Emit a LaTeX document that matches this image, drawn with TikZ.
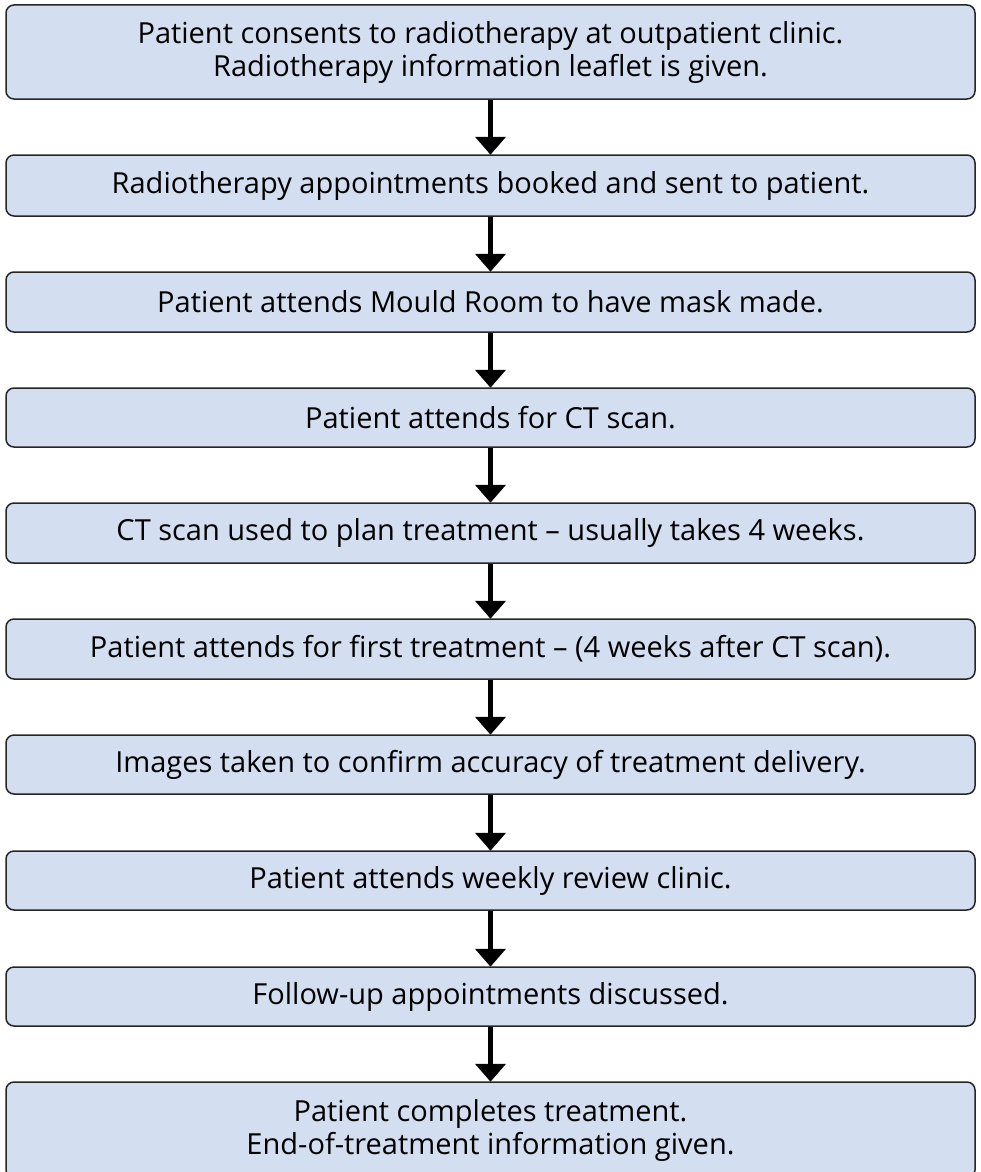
\documentclass[tikz,border=0pt]{standalone}
\usepackage{fontspec}
\setmainfont{Open Sans}
\usetikzlibrary{arrows.meta}
\definecolor{boxfill}{RGB}{211,222,241}
\tikzset{
  stepbox/.style={draw=black!85, line width=1.5pt, fill=boxfill,
    rounded corners=8pt, minimum width=969pt, align=center,
    inner sep=0pt, font=\fontsize{29}{33}\selectfont},
  flow/.style={line width=5.5pt,
    -{Triangle[width=30pt,length=18pt]}, shorten >=-0.5pt}
}
\begin{document}
\begin{tikzpicture}[x=1pt,y=1pt]
  \useasboundingbox (0,0) rectangle (980,-1172);
  \begin{scope}
    \clip (0,0) rectangle (980,-1172);
    \node[stepbox, minimum height=94pt] (consent) at (490.5,-52)
      {Patient consents to radiotherapy at outpatient clinic.\\Radiotherapy information leaflet is given.};
    \node[stepbox, minimum height=61pt] (booked) at (490.5,-185.5)
      {Radiotherapy appointments booked and sent to patient.};
    \node[stepbox, minimum height=60pt] (mould) at (490.5,-302)
      {Patient attends Mould Room to have mask made.};
    \node[stepbox, minimum height=59pt] (ctscan) at (490.5,-417.5)
      {Patient attends for CT scan.};
    \node[stepbox, minimum height=60pt] (plan) at (490.5,-533)
      {CT scan used to plan treatment – usually takes 4 weeks.};
    \node[stepbox, minimum height=60pt] (first) at (490.5,-649)
      {Patient attends for first treatment – (4 weeks after CT scan).};
    \node[stepbox, minimum height=59pt] (images) at (490.5,-764.5)
      {Images taken to confirm accuracy of treatment delivery.};
    \node[stepbox, minimum height=59pt] (review) at (490.5,-880.5)
      {Patient attends weekly review clinic.};
    \node[stepbox, minimum height=59pt] (followup) at (490.5,-996.5)
      {Follow-up appointments discussed.};
    \node[stepbox, minimum height=96pt] (complete) at (490.5,-1130)
      {Patient completes treatment.\\End-of-treatment information given.};
  \end{scope}
  \begin{scope}[flow]
    \draw (consent) to (booked);
    \draw (booked) to (mould);
    \draw (mould) to (ctscan);
    \draw (ctscan) to (plan);
    \draw (plan) to (first);
    \draw (first) to (images);
    \draw (images) to (review);
    \draw (review) to (followup);
    \draw (followup) to (complete);
  \end{scope}
\end{tikzpicture}
\end{document}
